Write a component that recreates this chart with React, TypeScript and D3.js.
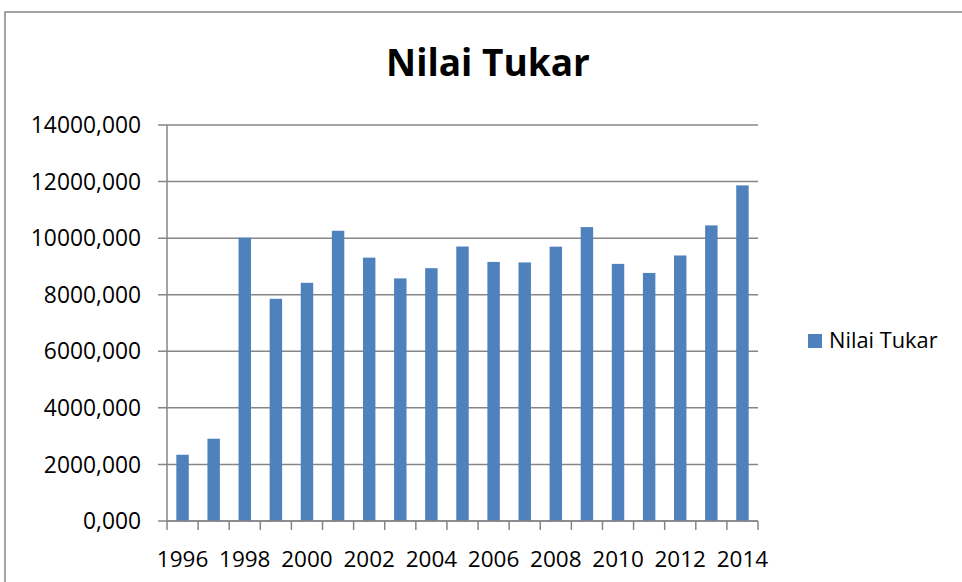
import React from "react";
import * as d3 from "d3";

const years: string[] = ["1996","1997","1998","1999","2000","2001","2002","2003","2004","2005","2006","2007","2008","2009","2010","2011","2012","2013","2014"];
const nilaiTukar: number[] = [2342, 2909, 10014, 7855, 8421, 10261, 9311, 8577, 8938, 9704, 9159, 9141, 9699, 10390, 9090, 8770, 9387, 10451, 11865];
const yTicks: number[] = [0, 2000, 4000, 6000, 8000, 10000, 12000, 14000];
const xLabelYears: string[] = ["1996","1998","2000","2002","2004","2006","2008","2010","2012","2014"];
const title = "Nilai Tukar";
const seriesName = "Nilai Tukar";

const W = 962, H = 582;
const left = 167, right = 758, top = 125, bottom = 521;
const gray = "#868686";
const barColor = "#4F81BD";
const font = "'Open Sans', 'Noto Sans', sans-serif";

export default function App() {
  const y = d3.scaleLinear().domain([0, 14000]).range([bottom, top]);
  const xb = d3.scaleBand<string>().domain(years).range([left, right]).padding(0);
  const bw = xb.bandwidth();
  const fmt = (v: number) => `${v},000`;
  return (
    <svg width={W} height={H} style={{ position: "absolute", left: 0, top: 0, background: "#fff" }}>
      <rect x={5} y={12} width={W + 10} height={H + 10} fill="#fff" stroke={gray} strokeWidth={1.5} />
      <text x={488} y={76} textAnchor="middle" fontFamily={font} fontWeight="bold" fontSize={37} fill="#000">{title}</text>
      {yTicks.map((t) => (
        <g key={t}>
          <line x1={left - 9} x2={right} y1={y(t)} y2={y(t)} stroke={gray} strokeWidth={1.5} />
          <text x={141} y={y(t)} dy="0.36em" textAnchor="end" fontFamily={font} fontSize={22.8} fill="#000">{fmt(t)}</text>
        </g>
      ))}
      <line x1={left} x2={left} y1={top} y2={bottom} stroke={gray} strokeWidth={1.5} />
      {years.map((yr, i) => (
        <rect key={yr} x={(xb(yr) as number) + bw * 0.3} width={bw * 0.4} y={y(nilaiTukar[i])} height={bottom - y(nilaiTukar[i])} fill={barColor} />
      ))}
      <line x1={left} x2={right} y1={bottom} y2={bottom} stroke={gray} strokeWidth={1.5} />
      {years.concat(["end"]).map((yr, i) => {
        const xx = i < years.length ? (xb(yr) as number) : right;
        return <line key={"t" + i} x1={xx} x2={xx} y1={bottom} y2={bottom + 9} stroke={gray} strokeWidth={1.5} />;
      })}
      {xLabelYears.map((yr) => (
        <text key={yr} x={(xb(yr) as number) + bw / 2} y={567} textAnchor="middle" fontFamily={font} fontSize={22.5} fill="#000">{yr}</text>
      ))}
      <rect x={808} y={334} width={14} height={14} fill={barColor} />
      <text x={829} y={348} fontFamily={font} fontSize={21.8} fill="#000">{seriesName}</text>
    </svg>
  );
}
